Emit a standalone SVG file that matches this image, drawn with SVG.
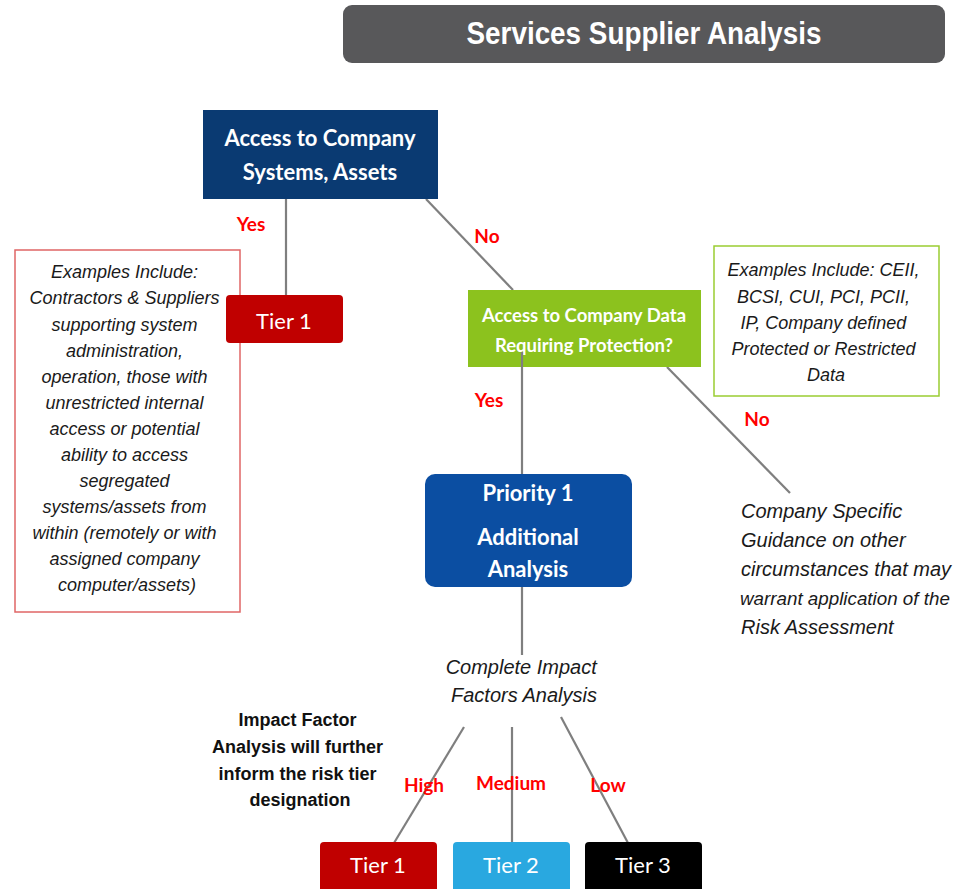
<svg xmlns="http://www.w3.org/2000/svg" width="961" height="889" viewBox="0 0 961 889">
  <style>
    .bg { fill: #ffffff; }
    .conn line { stroke: #7f7f7f; stroke-width: 2.2; }
    .head { font-family: Lato, "Open Sans", "Liberation Sans", sans-serif; font-weight: bold; fill: #ffffff; text-anchor: middle; }
    .tier { font-family: Lato, "Open Sans", "Liberation Sans", sans-serif; font-size: 22px; fill: #ffffff; text-anchor: middle; }
    .note { font-family: "Liberation Sans", Arial, sans-serif; font-style: italic; font-size: 18px; fill: #1a1a1a; text-anchor: middle; }
    .lbl { font-family: Lato, "Open Sans", "Liberation Sans", sans-serif; font-weight: bold; font-size: 19px; fill: #ff0000; text-anchor: middle; }
  </style>
  <rect class="bg" x="0" y="0" width="961" height="889"/>

  <!-- title banner -->
  <g id="title">
    <rect x="343" y="5" width="602" height="58" rx="9" fill="#58585a"/>
    <text x="644" y="44" font-family="'Liberation Sans Narrow', 'Liberation Sans', Arial, sans-serif" font-weight="bold" font-size="32" fill="#ffffff" text-anchor="middle" textLength="355" lengthAdjust="spacingAndGlyphs">Services Supplier Analysis</text>
  </g>

  <!-- connectors -->
  <g id="connectors" class="conn">
    <line x1="286" y1="199" x2="286" y2="296"/>
    <line x1="426" y1="199" x2="513" y2="290"/>
    <line x1="667" y1="367" x2="790" y2="493"/>
    <line x1="522" y1="587" x2="522" y2="655"/>
    <line x1="464" y1="727" x2="394" y2="843"/>
    <line x1="512" y1="727" x2="512" y2="843"/>
    <line x1="561" y1="717" x2="628" y2="843"/>
  </g>

  <g id="systems-access">
    <rect x="203" y="110" width="235" height="89" fill="#0a3a72"/>
    <text class="head" x="320" y="146" font-size="22">Access to Company</text>
    <text class="head" x="320" y="180" font-size="22">Systems, Assets</text>
  </g>

  <g id="examples-systems">
    <rect x="15" y="250" width="225" height="362" fill="#ffffff" stroke="#e06666" stroke-width="1.5"/>
    <text class="note">
      <tspan x="127" y="278">Examples Include:</tspan>
      <tspan x="127" y="304">Contractors &amp; Suppliers</tspan>
      <tspan x="127" y="331">supporting system</tspan>
      <tspan x="127" y="357">administration,</tspan>
      <tspan x="127" y="383">operation, those with</tspan>
      <tspan x="127" y="409">unrestricted internal</tspan>
      <tspan x="127" y="435">access or potential</tspan>
      <tspan x="127" y="461">ability to access</tspan>
      <tspan x="127" y="487">segregated</tspan>
      <tspan x="127" y="513">systems/assets from</tspan>
      <tspan x="127" y="539">within (remotely or with</tspan>
      <tspan x="127" y="565">assigned company</tspan>
      <tspan x="127" y="591">computer/assets)</tspan>
    </text>
  </g>

  <g id="tier1-top">
    <rect x="226" y="295" width="117" height="48" rx="4" fill="#c00000"/>
    <text class="tier" x="284" y="329">Tier 1</text>
  </g>

  <g id="data-access">
    <rect x="468" y="290" width="233" height="77" fill="#8cc21e"/>
    <text class="head" x="584" y="322" font-size="18.5">Access to Company Data</text>
    <text class="head" x="584" y="352" font-size="18.5">Requiring Protection?</text>
  </g>
  <line x1="522" y1="352" x2="522" y2="474" stroke="#7f7f7f" stroke-width="2.2"/>

  <g id="examples-data">
    <rect x="714" y="246" width="225" height="150" fill="#ffffff" stroke="#9acd32" stroke-width="1.5"/>
    <text class="note">
      <tspan x="826" y="276">Examples Include: CEII,</tspan>
      <tspan x="826" y="303">BCSI, CUI, PCI, PCII,</tspan>
      <tspan x="826" y="329">IP, Company defined</tspan>
      <tspan x="826" y="355">Protected or Restricted</tspan>
      <tspan x="826" y="381">Data</tspan>
    </text>
  </g>

  <g id="priority-1">
    <rect x="425" y="474" width="207" height="113" rx="10" fill="#0b4ea2"/>
    <text class="head" x="528" y="501" font-size="22">Priority 1</text>
    <text class="head" x="528" y="545" font-size="22">Additional</text>
    <text class="head" x="528" y="577" font-size="22">Analysis</text>
  </g>

  <g id="company-guidance">
    <text font-family="'Liberation Sans', Arial, sans-serif" font-style="italic" font-size="20" fill="#1a1a1a">
      <tspan x="741" y="518">Company Specific</tspan>
      <tspan x="741" y="547">Guidance on other</tspan>
      <tspan x="741" y="576">circumstances that may</tspan>
      <tspan x="740" y="605" font-size="18.8">warrant application of the</tspan>
      <tspan x="741" y="634">Risk Assessment</tspan>
    </text>
  </g>

  <g id="impact-analysis">
    <text font-family="'Liberation Sans', Arial, sans-serif" font-style="italic" font-size="20" fill="#1a1a1a" text-anchor="middle">
      <tspan x="524" y="674">Complete Impact</tspan>
      <tspan x="524" y="702">Factors Analysis</tspan>
    </text>
  </g>

  <g id="impact-note">
    <text font-family="'Liberation Sans', Arial, sans-serif" font-weight="bold" font-size="18" fill="#111111" text-anchor="middle">
      <tspan x="300" y="726">Impact Factor</tspan>
      <tspan x="300" y="753">Analysis will further</tspan>
      <tspan x="300" y="780">inform the risk tier</tspan>
      <tspan x="300" y="806">designation</tspan>
    </text>
  </g>

  <!-- branch labels -->
  <g id="labels">
    <text class="lbl" x="251" y="231">Yes</text>
    <text class="lbl" x="487" y="243">No</text>
    <text class="lbl" x="489" y="407">Yes</text>
    <text class="lbl" x="757" y="426">No</text>
    <text class="lbl" x="424" y="792">High</text>
    <text class="lbl" x="511" y="790">Medium</text>
    <text class="lbl" x="608" y="792">Low</text>
  </g>

  <g id="tier1-bottom">
    <rect x="320" y="842" width="117" height="52" rx="4" fill="#c00000"/>
    <text class="tier" x="378" y="873">Tier 1</text>
  </g>
  <g id="tier2">
    <rect x="453" y="842" width="117" height="52" rx="4" fill="#29a8e0"/>
    <text class="tier" x="511" y="873">Tier 2</text>
  </g>
  <g id="tier3">
    <rect x="585" y="842" width="117" height="52" rx="4" fill="#000000"/>
    <text class="tier" x="643" y="873">Tier 3</text>
  </g>
</svg>
